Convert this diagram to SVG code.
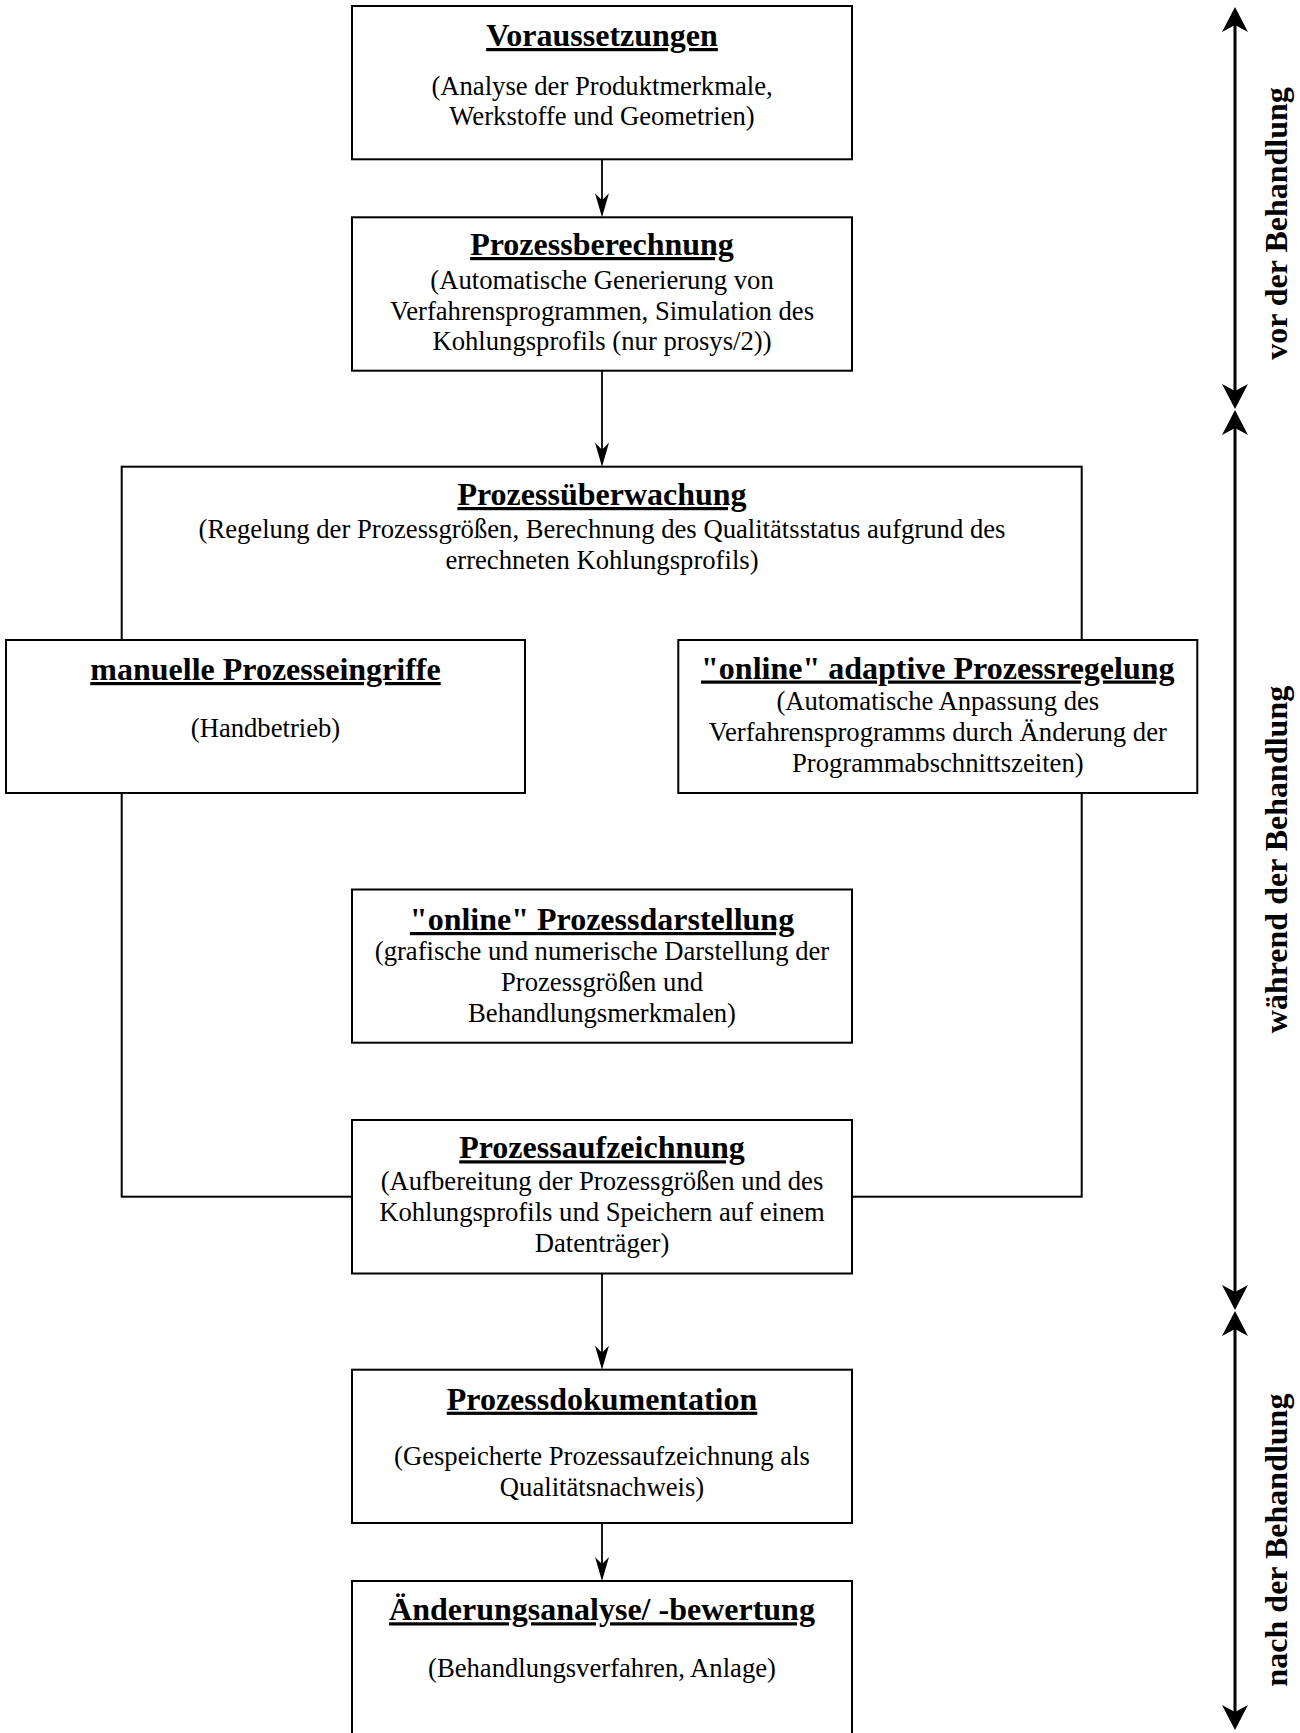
<svg xmlns="http://www.w3.org/2000/svg" width="1300" height="1733" viewBox="0 0 1300 1733">
<style>
  .box { fill: #ffffff; stroke: #000000; stroke-width: 2; }
  .frame { fill: none; stroke: #000000; stroke-width: 2; }
  .title { font-family: "Liberation Serif", "Times New Roman", serif; font-size: 32px; font-weight: bold; text-anchor: middle; text-decoration: underline; text-decoration-thickness: 2.5px; text-underline-offset: 4px; fill: #000; }
  .body { font-family: "Liberation Serif", "Times New Roman", serif; font-size: 26.67px; text-anchor: middle; fill: #000; }
  .side { font-family: "Liberation Serif", "Times New Roman", serif; font-size: 32px; font-weight: bold; text-anchor: middle; fill: #000; }
  .conn { stroke: #000000; stroke-width: 1.8; fill: none; }
  .phase { stroke: #000000; stroke-width: 3; fill: none; }
</style>
<defs>
  <marker id="ah" viewBox="0 0 24 14" refX="14" refY="7" markerWidth="24" markerHeight="14" markerUnits="userSpaceOnUse" orient="auto">
    <path d="M0,0 L24,7 L0,14 L7,7 Z" fill="#000"/>
  </marker>
  <marker id="ph" viewBox="0 0 25 26" refX="15" refY="13" markerWidth="25" markerHeight="26" markerUnits="userSpaceOnUse" orient="auto-start-reverse">
    <path d="M0,0 L25,13 L0,26 L7,13 Z" fill="#000"/>
  </marker>
</defs>

<g id="ueberwachung">
  <rect class="frame" x="121.7" y="466.7" width="960" height="730"/>
  <text class="title" x="602" y="505">Prozessüberwachung</text>
  <text class="body" x="602" y="538">(Regelung der Prozessgrößen, Berechnung des Qualitätsstatus aufgrund des</text>
  <text class="body" x="602" y="568.5">errechneten Kohlungsprofils)</text>
</g>

<g id="connectors">
  <line class="conn" x1="602" y1="159.3" x2="602" y2="207.3" marker-end="url(#ah)"/>
  <line class="conn" x1="602" y1="370.7" x2="602" y2="456.7" marker-end="url(#ah)"/>
  <line class="conn" x1="602" y1="1273.5" x2="602" y2="1359.7" marker-end="url(#ah)"/>
  <line class="conn" x1="602" y1="1523" x2="602" y2="1571" marker-end="url(#ah)"/>
  <line class="phase" x1="1235" y1="17" x2="1235" y2="399" marker-start="url(#ph)" marker-end="url(#ph)"/>
  <line class="phase" x1="1235" y1="420" x2="1235" y2="1300" marker-start="url(#ph)" marker-end="url(#ph)"/>
  <line class="phase" x1="1235" y1="1321" x2="1235" y2="1720" marker-start="url(#ph)" marker-end="url(#ph)"/>
</g>

<g id="voraussetzungen">
  <rect class="box" x="352" y="6" width="500" height="153.3"/>
  <text class="title" x="602" y="46">Voraussetzungen</text>
  <text class="body" x="602" y="94.5">(Analyse der Produktmerkmale,</text>
  <text class="body" x="602" y="125">Werkstoffe und Geometrien)</text>
</g>

<g id="prozessberechnung">
  <rect class="box" x="352" y="217.3" width="500" height="153.4"/>
  <text class="title" x="602" y="255">Prozessberechnung</text>
  <text class="body" x="602" y="288.5">(Automatische Generierung von</text>
  <text class="body" x="602" y="319.5">Verfahrensprogrammen, Simulation des</text>
  <text class="body" x="602" y="350">Kohlungsprofils (nur prosys/2))</text>
</g>

<g id="manuell">
  <rect class="box" x="6" y="640" width="519" height="153"/>
  <text class="title" x="265.5" y="680">manuelle Prozesseingriffe</text>
  <text class="body" x="265.5" y="737">(Handbetrieb)</text>
</g>

<g id="adaptiv">
  <rect class="box" x="678.3" y="640" width="519" height="153"/>
  <text class="title" x="937.8" y="678.5">"online" adaptive Prozessregelung</text>
  <text class="body" x="937.8" y="710">(Automatische Anpassung des</text>
  <text class="body" x="937.8" y="741">Verfahrensprogramms durch Änderung der</text>
  <text class="body" x="937.8" y="771.5">Programmabschnittszeiten)</text>
</g>

<g id="darstellung">
  <rect class="box" x="352" y="889.5" width="500" height="153.2"/>
  <text class="title" x="602" y="930">"online" Prozessdarstellung</text>
  <text class="body" x="602" y="960">(grafische und numerische Darstellung der</text>
  <text class="body" x="602" y="991">Prozessgrößen und</text>
  <text class="body" x="602" y="1021.7">Behandlungsmerkmalen)</text>
</g>

<g id="aufzeichnung">
  <rect class="box" x="352" y="1120" width="500" height="153.5"/>
  <text class="title" x="602" y="1158.3">Prozessaufzeichnung</text>
  <text class="body" x="602" y="1190">(Aufbereitung der Prozessgrößen und des</text>
  <text class="body" x="602" y="1220.7">Kohlungsprofils und Speichern auf einem</text>
  <text class="body" x="602" y="1251.7">Datenträger)</text>
</g>

<g id="dokumentation">
  <rect class="box" x="352" y="1369.7" width="500" height="153.3"/>
  <text class="title" x="602" y="1409.7">Prozessdokumentation</text>
  <text class="body" x="602" y="1465.3">(Gespeicherte Prozessaufzeichnung als</text>
  <text class="body" x="602" y="1496.3">Qualitätsnachweis)</text>
</g>

<g id="aenderung">
  <rect class="box" x="352" y="1581" width="500" height="160"/>
  <text class="title" x="602" y="1620.3">Änderungsanalyse/ -bewertung</text>
  <text class="body" x="602" y="1677.3">(Behandlungsverfahren, Anlage)</text>
</g>

<g id="phasen">
  <text class="side" transform="translate(1287,223.5) rotate(-90)">vor der Behandlung</text>
  <text class="side" transform="translate(1287,859.5) rotate(-90)">während der Behandlung</text>
  <text class="side" transform="translate(1287,1540) rotate(-90)">nach der Behandlung</text>
</g>
</svg>
